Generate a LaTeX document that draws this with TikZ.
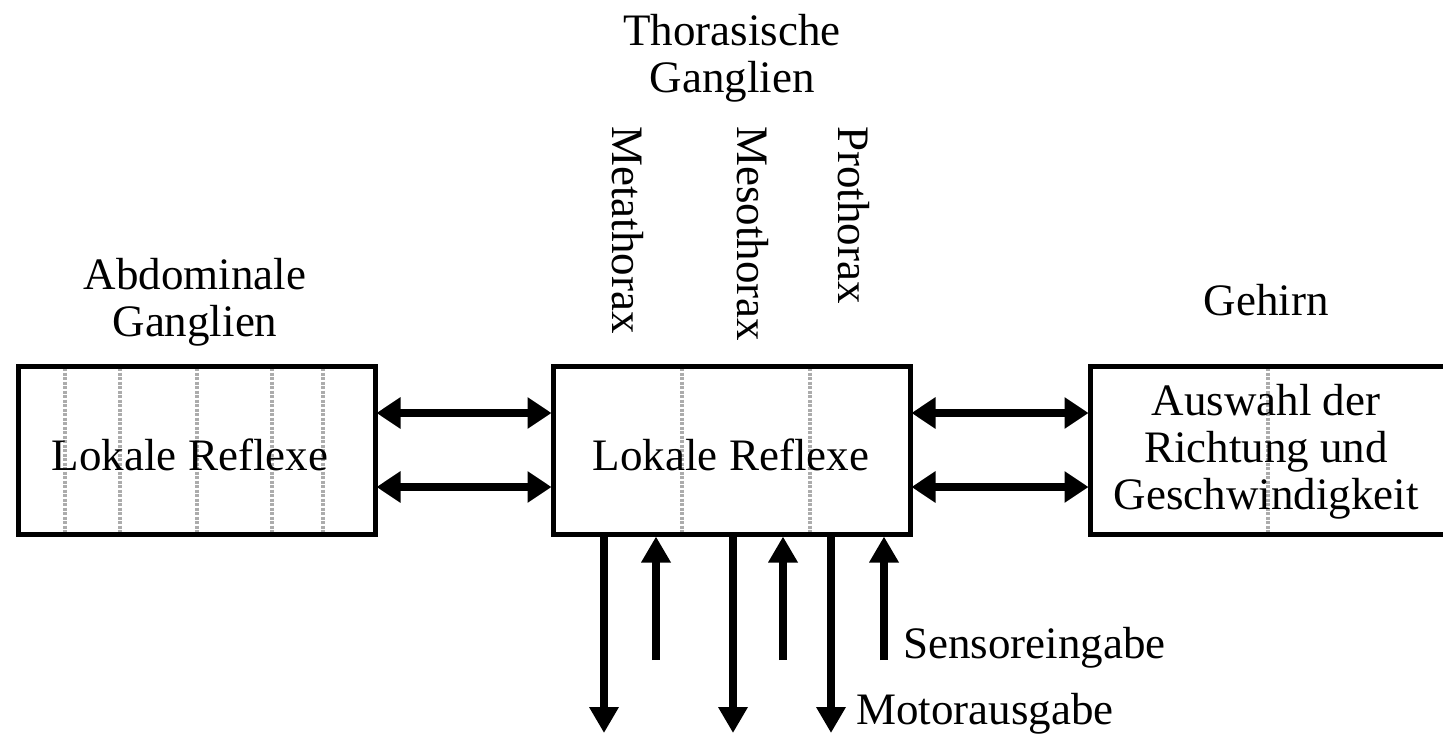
\documentclass[tikz,border=0pt]{standalone}
\usepackage{fontspec}
\setmainfont{Liberation Serif}
\usetikzlibrary{arrows.meta}
\begin{document}
\begin{tikzpicture}[x=1pt,y=-1pt,
  box/.style={draw, line width=5pt, inner sep=0pt},
  lbl/.style={font=\fontsize{45}{47}\selectfont, align=center, inner sep=0pt},
  seg/.style={gray!65, line width=4pt, dash pattern=on 3pt off 1.5pt},
  dbl/.style={line width=8pt, {Triangle[length=24pt,width=30pt]}-{Triangle[length=24pt,width=30pt]}, shorten <=-1pt, shorten >=-1pt},
  sig/.style={line width=8pt, -{Triangle[length=26pt,width=28pt]}}]
\useasboundingbox (0,0) rectangle (1443,741);
\begin{scope}
\clip (0,0) rectangle (1443,741);
% segment lines
\foreach \x in {65,120,197,272,323} \draw[seg] (\x,368) -- (\x,532);
\foreach \x in {682,810} \draw[seg] (\x,368) -- (\x,532);
\draw[seg] (1268,368) -- (1268,532);
% boxes
\node[box, minimum width=357pt, minimum height=168pt] (L) at (196.5,450) {};
\node[box, minimum width=357pt, minimum height=168pt] (C) at (731.5,450) {};
\node[box, minimum width=370pt, minimum height=168pt] (R) at (1275,450) {};
\end{scope}
% texts in boxes
\node[lbl] (Ltxt) at (190,455) {Lokale Reflexe};
\node[lbl] (Ctxt) at (731,455) {Lokale Reflexe};
\node[lbl] (Rtxt) at (1266,452) {Auswahl der\\Richtung und\\Geschwindigkeit};
% labels above
\node[lbl] (abd) at (195,302) {Abdominale\\Ganglien};
\node[lbl] (tho) at (732,58) {Thorasische\\Ganglien};
\node[lbl] (geh) at (1266,300) {Gehirn};
\node[lbl, rotate=-90, anchor=west] (meta) at (628,126) {Metathorax};
\node[lbl, rotate=-90, anchor=west] (meso) at (753,126) {Mesothorax};
\node[lbl, rotate=-90, anchor=west] (pro) at (854,126) {Prothorax};
% double arrows
\draw[dbl] ([yshift=37pt]L.east) -- ([yshift=37pt]C.west);
\draw[dbl] ([yshift=-37pt]L.east) -- ([yshift=-37pt]C.west);
\draw[dbl] ([yshift=37pt]C.east) -- ([yshift=37pt]R.west);
\draw[dbl] ([yshift=-37pt]C.east) -- ([yshift=-37pt]R.west);
% motor outputs
\coordinate (m1) at (604,733);
\coordinate (m2) at (733,733);
\coordinate (m3) at (831,733);
\draw[sig] (C.south -| m1) -- (m1);
\draw[sig] (C.south -| m2) -- (m2);
\draw[sig] (C.south -| m3) -- (m3);
% sensory inputs
\coordinate (s1) at (656,660);
\coordinate (s2) at (783,660);
\coordinate (s3) at (884,660);
\draw[sig] (s1) -- (C.south -| s1);
\draw[sig] (s2) -- (C.south -| s2);
\draw[sig] (s3) -- (C.south -| s3);
\node[lbl, anchor=west] (sens) at (903,648) {Sensoreingabe};
\node[lbl, anchor=west] (mot) at (856,714) {Motorausgabe};
\end{tikzpicture}
\end{document}
